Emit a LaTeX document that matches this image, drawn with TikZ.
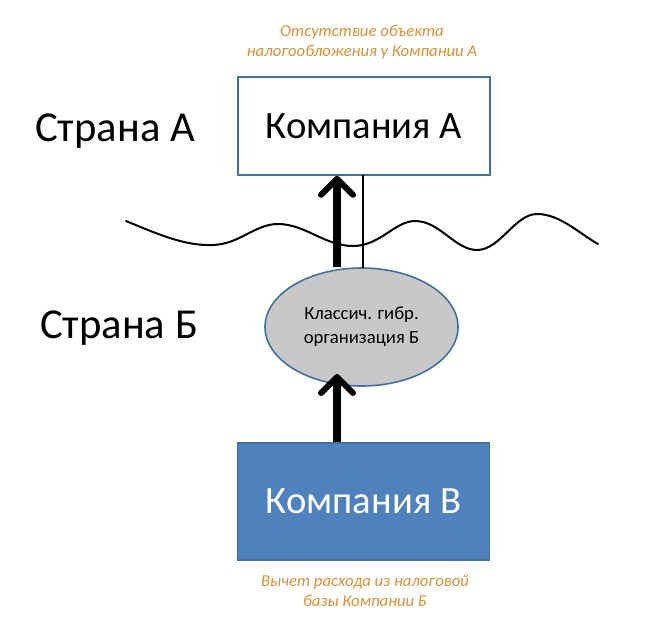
\documentclass[tikz,border=0pt]{standalone}
\usepackage{fontspec}
\setmainfont{Carlito}
\usetikzlibrary{shapes.geometric,arrows.meta}
\definecolor{boxedge}{HTML}{41719C}
\definecolor{boxfill}{HTML}{4F81BD}
\definecolor{ellfill}{HTML}{C8C8C8}
\definecolor{notec}{HTML}{D9903A}
\tikzset{
  company/.style={draw=boxedge, line width=1.2pt, minimum width=252*0.75pt, minimum height=98*0.75pt, font=\fontsize{29}{33}\selectfont, inner sep=0pt},
  country/.style={font=\fontsize{32}{36}\selectfont, inner sep=0pt},
  note/.style={text=notec, font=\fontsize{12.5}{15}\selectfont\itshape, align=center, inner sep=0pt},
  bigarrow/.style={line width=5.5pt, -{Straight Barb[length=12pt,width=24pt,line width=4.5pt,round]}},
}
\begin{document}
\begin{tikzpicture}[x=0.75pt,y=-0.75pt]
\useasboundingbox (0,0) rectangle (668,626);
\node[company, fill=white] (a) at (364,126) {Компания А};
\node[company, fill=boxfill, text=white, minimum height=117*0.75pt] (b) at (363.5,501.5) {Компания В};
\node[ellipse, draw=boxedge, line width=1.2pt, fill=ellfill, minimum width=193*0.75pt, minimum height=118*0.75pt, align=center, font=\fontsize{14}{18}\selectfont, inner sep=0pt] (h) at (361.5,327) {Классич. гибр.\\организация Б};
\node[country] (ca) at (115,131) {Страна А};
\node[country] (cb) at (119,328) {Страна Б};
\node[note] (na) at (362,42) {Отсутствие объекта\\налогообложения у Компании А};
\node[note] (nb) at (365,591) {Вычет расхода из налоговой\\базы Компании Б};
\coordinate (w0) at (126,221);
\draw[line width=1.5pt, line cap=round] (w0) .. controls (160,235) and (185,246) .. (213,245)
  .. controls (240,244) and (255,224) .. (278,224)
  .. controls (305,224) and (325,246) .. (353,246)
  .. controls (380,246) and (395,221) .. (415,221)
  .. controls (440,221) and (455,250) .. (477,250)
  .. controls (500,250) and (515,214) .. (537,214)
  .. controls (560,214) and (580,234) .. (598,244);
\coordinate (t1) at (363,175);
\coordinate (t2) at (363,268);
\draw[line width=0.8pt] (t1) -- (t2);
\draw[bigarrow] (h.north -| 337,0) -- (a.south -| 337,0);
\draw[bigarrow] (b.north -| 337,0) -- (337,374);
\end{tikzpicture}
\end{document}
